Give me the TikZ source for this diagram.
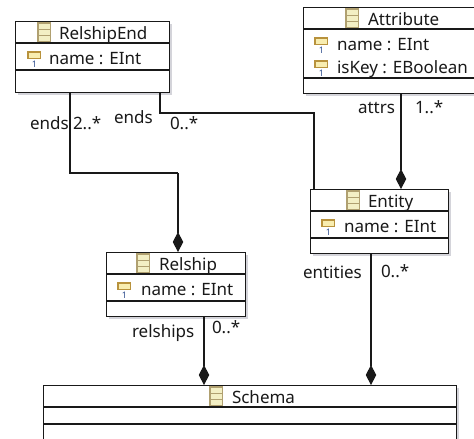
\documentclass[tikz,border=0pt]{standalone}
\usepackage{fontspec}
\setmainfont{Noto Sans}
\usetikzlibrary{arrows.meta,calc}
\definecolor{icontan}{HTML}{B0A070}
\definecolor{iconfill}{HTML}{F3EFC4}
\definecolor{attrfill}{HTML}{F8EDB0}
\definecolor{attredge}{HTML}{B8923C}
\definecolor{oneblue}{HTML}{2F4F8F}
\definecolor{shadowgray}{HTML}{D4D4DA}
\tikzset{
  x=1pt,y=-1pt,
  lbl/.style={anchor=base west,inner sep=0pt,outer sep=0pt,font=\fontsize{17}{19}\selectfont,text=black!90},
  wire/.style={line width=1.2pt,draw=black!90},
  comp/.style={wire,-{Diamond[length=20pt,width=10.5pt]}},
  sep/.style={line width=1.1pt,draw=black!90},
  boxframe/.style={draw=black!90,line width=1.2pt,fill=white},
  onedigit/.style={inner sep=0pt,text=oneblue,font=\fontsize{9}{9}\selectfont\bfseries},
  pics/classicon/.style={code={
    \draw[icontan,fill=iconfill,line width=1.4pt] (0,0) rectangle (12.5,18.5);
    \draw[icontan,line width=1.2pt] (0,6.2) -- (12.5,6.2) (0,12.4) -- (12.5,12.4);
  }},
  pics/attricon/.style={code={
    \draw[attredge,fill=attrfill,line width=1.4pt] (0,0) rectangle (12.5,6.5);
    \node[onedigit] at (6.5,12) {1};
  }}
}
\newcommand{\umlbox}[7]{%
  % name, left, top, right, bottom, sep1, sep2
  \fill[shadowgray] (#2+3,#3+3) rectangle (#4+3,#5+3);
  \node[boxframe,inner sep=0pt,anchor=north west,minimum width=#4 pt-#2 pt,minimum height=#5 pt-#3 pt] (#1) at (#2,#3) {};
  \draw[sep] (#2,#6) -- (#4+1,#6) (#2,#7) -- (#4+1,#7);
}
\begin{document}
\begin{tikzpicture}
\useasboundingbox (0,0) rectangle (474,439);
\clip (0,0) rectangle (474,439);
\fill[white] (0,0) rectangle (474,439);

\umlbox{relend}{15}{21}{169}{92}{43}{70}
\umlbox{attribute}{303}{7}{480}{93}{29}{78}
\umlbox{entity}{310}{189}{448}{253}{211}{238}
\umlbox{relship}{106}{252}{245}{316}{274}{301}
\umlbox{schema}{43}{385}{456}{446}{407}{424}

% connector routing points
\coordinate (a1) at (relend.south west -| 70,0);
\coordinate (a2) at (70,173);
\coordinate (a3) at (178,173);
\coordinate (b1) at (relend.south west -| 160,0);
\coordinate (b2) at (160,113);
\coordinate (b3) at (314,113);
\coordinate (c1) at (attribute.south west -| 401,0);
\coordinate (c2) at (entity.north west -| 401,0);
\coordinate (d1) at (relship.south west -| 204,0);
\coordinate (d2) at (schema.north west -| 204,0);
\coordinate (e1) at (entity.south west -| 371,0);
\coordinate (e2) at (schema.north west -| 371,0);

\draw[wire] (a1) -- (a2) -- (a3);
\draw[comp] (a3) -- (relship.north west -| a3);
\draw[wire] (b1) -- (b2) -- (b3) -- (entity.north west -| b3);
\draw[comp] (c1) -- (c2);
\draw[comp] (d1) -- (d2);
\draw[comp] (e1) -- (e2);

% class icons
\pic at (38,23) {classicon};
\pic at (346,9) {classicon};
\pic at (347,191) {classicon};
\pic at (137,254) {classicon};
\pic at (210,387) {classicon};

% attribute icons
\pic at (28,52) {attricon};
\pic at (315,38) {attricon};
\pic at (315,61) {attricon};
\pic at (322,220) {attricon};
\pic at (118,283) {attricon};

% titles and attributes
\node[lbl] (t1) at (59,39) {RelshipEnd};
\node[lbl] (t1a) at (49,64) {name : EInt};
\node[lbl] (t2) at (368,25) {Attribute};
\node[lbl] (t2a) at (337,50) {name : EInt};
\node[lbl] (t2b) at (337,73) {isKey : EBoolean};
\node[lbl] (t3) at (368,207) {Entity};
\node[lbl] (t3a) at (344,232) {name : EInt};
\node[lbl] (t4) at (159,270) {Relship};
\node[lbl] (t4a) at (141,295) {name : EInt};
\node[lbl] (t5) at (232,403) {Schema};

% connector labels
\node[lbl] (l1) at (30,129) {ends};
\node[lbl] (l2) at (73,129) {2..*};
\node[lbl] (l3) at (114,123) {ends};
\node[lbl] (l4) at (170,129) {0..*};
\node[lbl] (l5) at (358,113) {attrs};
\node[lbl] (l6) at (415,113) {1..*};
\node[lbl] (l7) at (303,278) {entities};
\node[lbl] (l8) at (381,277) {0..*};
\node[lbl] (l9) at (132,337) {relships};
\node[lbl] (l10) at (212,333) {0..*};
\end{tikzpicture}
\end{document}
